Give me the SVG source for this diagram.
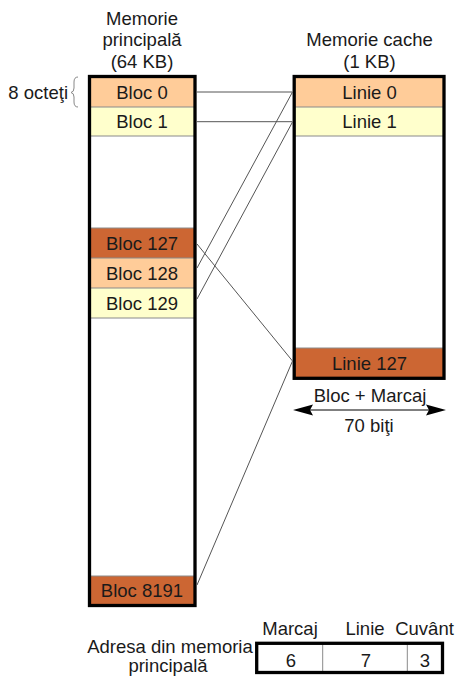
<svg xmlns="http://www.w3.org/2000/svg" width="455" height="677" viewBox="0 0 455 677">
<style>
text{font-family:"Liberation Sans",Arial,sans-serif;font-size:18.5px;fill:#1a1a1a}
.c{text-anchor:middle}
.box{fill:none;stroke:#000;stroke-width:3.3}
.peach{fill:#FFCC99}
.yellow{fill:#FFFFCC}
.dark{fill:#CC6633}
.div{stroke:#8a8a8a;stroke-width:1}
.conn{stroke:#555;stroke-width:1;fill:none}
</style>
<rect width="455" height="677" fill="#fff"/>
<g id="main-memory">
<text class="c" x="142" y="25">Memorie</text>
<text class="c" x="142" y="46">principală</text>
<text class="c" x="142" y="67.5">(64 KB)</text>
<rect x="89.5" y="76.5" width="105.5" height="529" fill="#fff"/>
<g id="bloc0"><rect class="peach" x="89.5" y="78" width="105.5" height="29"/><text class="c" x="142" y="99">Bloc 0</text></g>
<g id="bloc1"><rect class="yellow" x="89.5" y="107" width="105.5" height="29"/><text class="c" x="142" y="128">Bloc 1</text></g>
<g id="bloc127"><rect class="dark" x="89.5" y="228" width="105.5" height="30"/><text class="c" x="142" y="249.8">Bloc 127</text></g>
<g id="bloc128"><rect class="peach" x="89.5" y="258" width="105.5" height="30"/><text class="c" x="142" y="279.8">Bloc 128</text></g>
<g id="bloc129"><rect class="yellow" x="89.5" y="288" width="105.5" height="30"/><text class="c" x="142" y="309.8">Bloc 129</text></g>
<g id="bloc8191"><rect class="dark" x="89.5" y="576" width="105.5" height="29"/><text class="c" x="142" y="597">Bloc 8191</text></g>
<line class="div" x1="89.5" y1="107" x2="195" y2="107"/>
<line class="div" x1="89.5" y1="136" x2="195" y2="136"/>
<line class="div" x1="89.5" y1="228" x2="195" y2="228"/>
<line class="div" x1="89.5" y1="258" x2="195" y2="258"/>
<line class="div" x1="89.5" y1="288" x2="195" y2="288"/>
<line class="div" x1="89.5" y1="318" x2="195" y2="318"/>
<line class="div" x1="89.5" y1="576" x2="195" y2="576"/>
<rect class="box" x="89.5" y="76.5" width="105.5" height="529"/>
</g>
<g id="size-label">
<text x="68" y="99" text-anchor="end">8 octeţi</text>
<path d="M78,77 Q74,77 74,82 L74,88 Q74,92 71,92.5 Q74,93 74,97 L74,102 Q74,107 78,107" fill="none" stroke="#888" stroke-width="1"/>
</g>
<g id="cache-memory">
<text class="c" x="369.5" y="45.5">Memorie cache</text>
<text class="c" x="369.5" y="67.5">(1 KB)</text>
<rect x="294.2" y="76.5" width="149.8" height="301.8" fill="#fff"/>
<g id="linie0"><rect class="peach" x="294.2" y="78" width="149.8" height="29"/><text class="c" x="369.5" y="99">Linie 0</text></g>
<g id="linie1"><rect class="yellow" x="294.2" y="107" width="149.8" height="29"/><text class="c" x="369.5" y="128">Linie 1</text></g>
<g id="linie127"><rect class="dark" x="294.2" y="348" width="149.8" height="30"/><text class="c" x="369.5" y="369.5">Linie 127</text></g>
<line class="div" x1="294.2" y1="107" x2="444" y2="107"/>
<line class="div" x1="294.2" y1="136" x2="444" y2="136"/>
<line class="div" x1="294.2" y1="348" x2="444" y2="348"/>
<rect class="box" x="294.2" y="76.5" width="149.8" height="301.8"/>
</g>
<g id="connectors">
<line class="conn" x1="197" y1="92" x2="292.5" y2="92"/>
<line class="conn" x1="197" y1="121.7" x2="292.5" y2="121.7"/>
<line class="conn" x1="197" y1="268" x2="292.5" y2="92"/>
<line class="conn" x1="197" y1="299" x2="292.5" y2="122"/>
<line class="conn" x1="197" y1="244" x2="292.5" y2="361"/>
<line class="conn" x1="197" y1="585" x2="292.5" y2="361"/>
</g>
<g id="width-arrow">
<text class="c" x="370" y="401.5">Bloc + Marcaj</text>
<line x1="305" y1="410" x2="434" y2="410" stroke="#000" stroke-width="1"/>
<polygon points="293,410 313,404.5 310,410 313,415.5" fill="#000"/>
<polygon points="446,410 426,404.5 429,410 426,415.5" fill="#000"/>
<text class="c" x="369" y="432">70 biţi</text>
</g>
<g id="address">
<text class="c" x="170" y="653">Adresa din memoria</text>
<text class="c" x="168" y="672">principală</text>
<text class="c" x="290" y="635">Marcaj</text>
<text class="c" x="365" y="635">Linie</text>
<text class="c" x="424.5" y="635">Cuvânt</text>
<line class="div" x1="322.7" y1="643" x2="322.7" y2="673"/>
<line class="div" x1="407.3" y1="643" x2="407.3" y2="673"/>
<rect class="box" x="256.7" y="643.3" width="185.8" height="29.2"/>
<text class="c" x="291" y="666.5">6</text>
<text class="c" x="366" y="666.5">7</text>
<text class="c" x="425" y="666.5">3</text>
</g>
</svg>
